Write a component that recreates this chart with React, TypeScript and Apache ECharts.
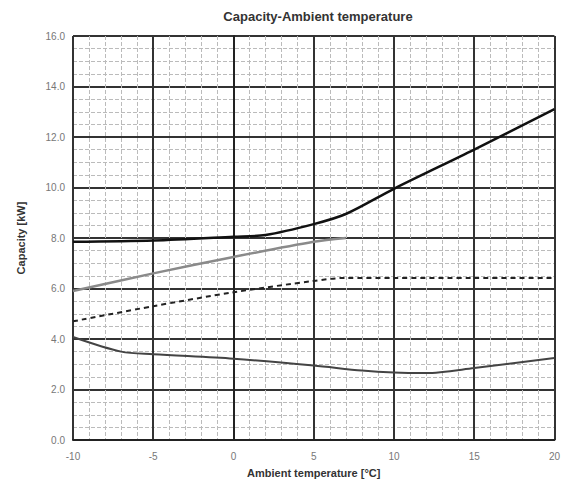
import React, { useEffect, useRef } from "react";
import * as echarts from "echarts";

const title = "Capacity-Ambient temperature";
const xName = "Ambient temperature [°C]";
const yName = "Capacity [kW]";

const blackX = [-10, -5, 0, 2, 5, 7, 10, 15, 20];
const blackY = [7.85, 7.9, 8.05, 8.12, 8.55, 8.95, 9.95, 11.5, 13.1];

const grayX = [-10, -5, 0, 5, 7];
const grayY = [5.9, 6.6, 7.25, 7.85, 8.0];

const dashX = [-10, -5, 0, 5, 7, 10, 15, 20];
const dashY = [4.7, 5.3, 5.85, 6.3, 6.42, 6.42, 6.42, 6.42];

const lowX = [-10, -7, -5, 0, 5, 8, 10, 12, 15, 20];
const lowY = [4.08, 3.5, 3.4, 3.22, 2.95, 2.75, 2.67, 2.65, 2.85, 3.25];

const zip = (xs: number[], ys: number[]) => xs.map((x, i) => [x, ys[i]]);

export default function App() {
  const ref = useRef<HTMLDivElement>(null);
  useEffect(() => {
    if (!ref.current) return;
    const chart = echarts.init(ref.current, undefined, { renderer: "svg" });
    const font = "Liberation Sans, Arial, sans-serif";
    chart.setOption({
      animation: false,
      backgroundColor: "#fff",
      title: {
        text: title,
        left: 313,
        top: 5,
        textAlign: "center",
        textStyle: { fontSize: 13, fontWeight: "bold", color: "#333", fontFamily: font },
      },
      grid: { left: 73, right: 6, top: 36, bottom: 48 },
      xAxis: {
        type: "value",
        min: -10,
        max: 20,
        interval: 5,
        name: xName,
        nameLocation: "middle",
        nameGap: 27,
        nameTextStyle: { fontSize: 11, fontWeight: "bold", color: "#333", fontFamily: font },
        axisLine: { show: true, lineStyle: { color: "#222", width: 2 } },
        axisTick: { show: false },
        axisLabel: { color: "#777", fontSize: 10, margin: 11, fontFamily: font },
        splitLine: { show: true, lineStyle: { color: "#333", width: 2 } },
        minorTick: { show: false, splitNumber: 5 },
        minorSplitLine: { show: true, lineStyle: { color: "#bbb", width: 1, type: "dashed" } },
      },
      yAxis: {
        type: "value",
        min: 0,
        max: 16,
        interval: 2,
        name: yName,
        nameLocation: "middle",
        nameGap: 47,
        nameTextStyle: { fontSize: 11, fontWeight: "bold", color: "#333", fontFamily: font },
        axisLine: { show: true, lineStyle: { color: "#222", width: 2 } },
        axisTick: { show: false },
        axisLabel: {
          color: "#777",
          fontSize: 10,
          margin: 8,
          fontFamily: font,
          formatter: (v: number) => v.toFixed(1),
        },
        splitLine: { show: true, lineStyle: { color: "#333", width: 2 } },
        minorTick: { show: false, splitNumber: 4 },
        minorSplitLine: { show: true, lineStyle: { color: "#bbb", width: 1, type: "dashed" } },
      },
      series: [
        {
          type: "line",
          data: zip(blackX, blackY),
          smooth: 0.3,
          symbol: "none",
          lineStyle: { color: "#111", width: 2.5 },
        },
        {
          type: "line",
          data: zip(grayX, grayY),
          smooth: 0.3,
          symbol: "none",
          lineStyle: { color: "#8a8a8a", width: 2.5 },
        },
        {
          type: "line",
          data: zip(dashX, dashY),
          smooth: 0.3,
          symbol: "none",
          lineStyle: { color: "#222", width: 2, type: [5, 4] },
        },
        {
          type: "line",
          data: zip(lowX, lowY),
          smooth: 0.3,
          symbol: "none",
          lineStyle: { color: "#444", width: 2 },
        },
      ],
    });
    return () => chart.dispose();
  }, []);
  return (
    <div
      ref={ref}
      style={{ position: "fixed", left: 0, top: 0, width: 563, height: 488 }}
    />
  );
}
